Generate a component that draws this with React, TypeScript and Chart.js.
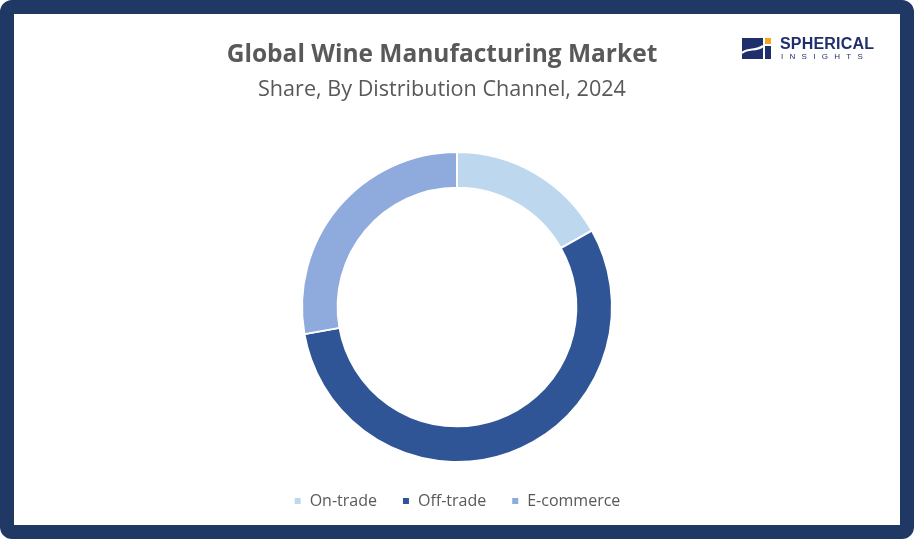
import React, { useEffect, useRef } from "react";
import { Chart, registerables } from "chart.js";

Chart.register(...registerables);

const categories = ["On-trade", "Off-trade", "E-commerce"];
const shares = [16.8, 55.4, 27.8];
const colors = ["#BDD7EE", "#2F5597", "#8FAADC"];

const titleText = "Global Wine Manufacturing Market";
const subtitleText = "Share, By Distribution Channel, 2024";

export default function App() {
  const ref = useRef<HTMLCanvasElement | null>(null);

  useEffect(() => {
    document.body.style.margin = "0";
    const ctx = ref.current!.getContext("2d")!;
    const chart = new Chart(ctx, {
      type: "doughnut",
      data: {
        labels: categories,
        datasets: [
          {
            data: shares,
            backgroundColor: colors,
            borderColor: "#FFFFFF",
            borderWidth: 2,
          },
        ],
      },
      options: {
        animation: false,
        responsive: false,
        cutout: "77%",
        layout: { padding: { top: 151, bottom: 20, left: 0, right: 0 } },
        plugins: {
          title: { display: false },
          tooltip: { enabled: false },
          legend: {
            display: true,
            position: "bottom",
            title: {
              display: true,
              text: "",
              font: { size: 1, lineHeight: 1 },
              padding: { top: 4, bottom: 0 },
            },
            labels: {
              boxWidth: 8,
              boxHeight: 8,
              padding: 25,
              color: "#595959",
              font: { family: "'Open Sans', sans-serif", size: 16 },
            },
          },
        },
      },
    });
    return () => chart.destroy();
  }, []);

  return (
    <div
      style={{
        position: "absolute",
        left: 0,
        top: 0,
        width: 914,
        height: 539,
        background: "#FFFFFF",
        overflow: "hidden",
      }}
    >
      <canvas
        ref={ref}
        width={914}
        height={539}
        style={{ position: "absolute", left: 0, top: 0, width: 914, height: 539 }}
      />
      <div
        style={{
          position: "absolute",
          left: 0,
          top: 0,
          width: 914,
          height: 539,
          boxSizing: "border-box",
          border: "14px solid #1F3864",
          borderRadius: 12,
          pointerEvents: "none",
        }}
      />
      <div
        style={{
          position: "absolute",
          left: 0,
          width: 884,
          top: 37,
          textAlign: "center",
          fontFamily: "'Open Sans', sans-serif",
          fontWeight: 700,
          fontSize: 24.5,
          color: "#595959",
          lineHeight: "32px",
        }}
      >
        {titleText}
      </div>
      <div
        style={{
          position: "absolute",
          left: 0,
          width: 884,
          top: 73,
          textAlign: "center",
          fontFamily: "'Open Sans', sans-serif",
          fontSize: 21.6,
          color: "#595959",
          lineHeight: "30px",
        }}
      >
        {subtitleText}
      </div>
      <svg
        width={30}
        height={22}
        viewBox="0 0 30 22"
        style={{ position: "absolute", left: 742, top: 38 }}
      >
        <rect x={0} y={0} width={21} height={21} fill="#1F2F6B" />
        <path d="M0 15 C7 9, 13 14, 21 8" stroke="#FFFFFF" strokeWidth={2.2} fill="none" />
        <rect x={23} y={0} width={6} height={6} fill="#F4A521" />
        <rect x={23} y={8} width={6} height={13} fill="#1F2F6B" />
      </svg>
      <div
        style={{
          position: "absolute",
          left: 780,
          top: 34,
          fontFamily: "'Liberation Sans', Arial, sans-serif",
          fontWeight: 700,
          fontSize: 16,
          color: "#1F2F6B",
          lineHeight: "20px",
          letterSpacing: 0.2,
        }}
      >
        SPHERICAL
      </div>
      <div
        style={{
          position: "absolute",
          left: 781,
          top: 52,
          fontFamily: "'Liberation Sans', Arial, sans-serif",
          fontSize: 8,
          color: "#1F2F6B",
          lineHeight: "10px",
          letterSpacing: 6.3,
        }}
      >
        INSIGHTS
      </div>
    </div>
  );
}
